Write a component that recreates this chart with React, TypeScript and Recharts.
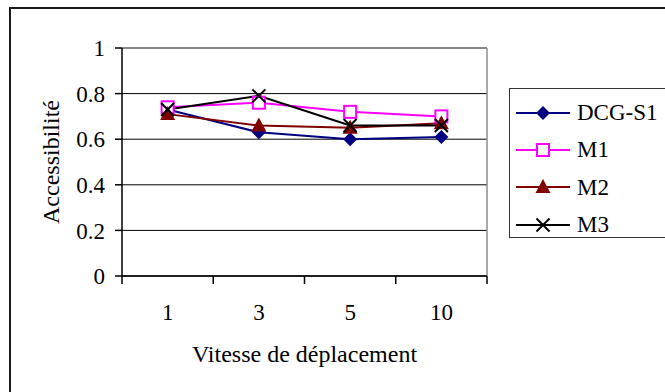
import React from "react";
import { CartesianGrid, Label, Legend, Line, LineChart, ReferenceLine, XAxis, YAxis } from "recharts";

const speeds = ["1", "3", "5", "10"];
const dcgS1 = [0.73, 0.63, 0.6, 0.61];
const m1 = [0.74, 0.76, 0.72, 0.7];
const m2 = [0.71, 0.66, 0.65, 0.67];
const m3 = [0.73, 0.79, 0.66, 0.66];
const yTicks = [0, 0.2, 0.4, 0.6, 0.8, 1];

const FONT = '"Liberation Serif", "Times New Roman", serif';

const series = [
  { key: "dcg", name: "DCG-S1", color: "#000080", shape: "diamond", values: dcgS1 },
  { key: "m1", name: "M1", color: "#ff00ff", shape: "square", values: m1 },
  { key: "m2", name: "M2", color: "#800000", shape: "triangle", values: m2 },
  { key: "m3", name: "M3", color: "#000000", shape: "cross", values: m3 },
];

// categories sit in the middle of each slot, slot edges get the tick marks
const rows = speeds.map((s, i) => {
  const row: Record<string, number | string> = { x: i + 0.5, speed: s };
  series.forEach((sr) => (row[sr.key] = sr.values[i]));
  return row;
});
const xTicks = [0, 0.5, 1, 1.5, 2, 2.5, 3, 3.5, 4];

function Marker({ shape, cx, cy, color }: { shape: string; cx: number; cy: number; color: string }) {
  if (shape === "diamond")
    return <polygon points={`${cx},${cy - 7} ${cx + 7},${cy} ${cx},${cy + 7} ${cx - 7},${cy}`} fill={color} />;
  if (shape === "square")
    return <rect x={cx - 6} y={cy - 6} width={12} height={12} fill="#fff" stroke={color} strokeWidth={2} />;
  if (shape === "triangle")
    return <polygon points={`${cx},${cy - 8} ${cx + 7.5},${cy + 6} ${cx - 7.5},${cy + 6}`} fill={color} />;
  return (
    <g stroke={color} strokeWidth={2}>
      <line x1={cx - 6.5} y1={cy - 6.5} x2={cx + 6.5} y2={cy + 6.5} />
      <line x1={cx - 6.5} y1={cy + 6.5} x2={cx + 6.5} y2={cy - 6.5} />
    </g>
  );
}

function XTick({ x, y, payload }: any) {
  const v = payload.value;
  if (Number.isInteger(v)) return <line x1={x} x2={x} y1={y} y2={y + 8} stroke="#000" strokeWidth={1.5} />;
  return (
    <text x={x} y={y + 44} textAnchor="middle" fontSize={23} fontFamily={FONT} fill="#000">
      {speeds[Math.floor(v)]}
    </text>
  );
}

// the legend box runs off the right edge of the picture, so no right border
function renderLegend() {
  return (
    <div
      style={{
        width: 200,
        height: 150,
        borderTop: "1.5px solid #333",
        borderLeft: "1.5px solid #333",
        borderBottom: "1.5px solid #333",
        boxSizing: "border-box",
        background: "#fff",
        paddingTop: 5,
      }}
    >
      {series.map((s) => (
        <div key={s.key} style={{ display: "flex", alignItems: "center", height: 37.3, paddingLeft: 6 }}>
          <svg width={54} height={24} style={{ display: "block" }}>
            <line x1={0} x2={54} y1={12} y2={12} stroke={s.color} strokeWidth={2} />
            <Marker shape={s.shape} cx={27} cy={12} color={s.color} />
          </svg>
          <span style={{ marginLeft: 7, fontSize: 23, fontFamily: FONT, color: "#000", lineHeight: 1 }}>{s.name}</span>
        </div>
      ))}
    </div>
  );
}

export default function App() {
  return (
    <div style={{ position: "absolute", left: 0, top: 0, width: 665, height: 392, overflow: "hidden", background: "#fff" }}>
      <div style={{ position: "absolute", left: 9, top: 7, width: 700, height: 420, border: "2px solid #1a1a1a" }} />
      <div style={{ position: "absolute", left: 0, top: 0 }}>
        <LineChart width={665} height={392} data={rows} margin={{ top: 48, right: 178, bottom: 36, left: 0 }}>
          <CartesianGrid vertical={false} stroke="#000" strokeWidth={1} />
          <ReferenceLine y={1} stroke="#8c8c8c" strokeWidth={1.5} />
          <ReferenceLine x={4} stroke="#8c8c8c" strokeWidth={1.5} />
          <XAxis
            dataKey="x"
            type="number"
            domain={[0, 4]}
            ticks={xTicks}
            interval={0}
            height={80}
            tickLine={false}
            tickSize={0}
            tickMargin={0}
            axisLine={{ stroke: "#000", strokeWidth: 1.5 }}
            tick={<XTick />}
          >
            <Label
              content={({ viewBox }: any) => (
                <text
                  x={viewBox.x + viewBox.width / 2}
                  y={viewBox.y + 86}
                  textAnchor="middle"
                  fontSize={24}
                  fontFamily={FONT}
                  fill="#000"
                >
                  Vitesse de déplacement
                </text>
              )}
            />
          </XAxis>
          <YAxis
            type="number"
            domain={[0, 1]}
            ticks={yTicks}
            width={122}
            tickSize={7}
            tickMargin={10}
            tickLine={{ stroke: "#000", strokeWidth: 1.5 }}
            axisLine={{ stroke: "#000", strokeWidth: 1.5 }}
            tick={{ fontSize: 23, fontFamily: FONT, fill: "#000" }}
          >
            <Label
              content={({ viewBox }: any) => {
                const cx = viewBox.x + 51;
                const cy = viewBox.y + viewBox.height / 2;
                return (
                  <text
                    x={cx}
                    y={cy}
                    transform={`rotate(-90 ${cx} ${cy})`}
                    textAnchor="middle"
                    dominantBaseline="central"
                    fontSize={24}
                    fontFamily={FONT}
                    fill="#000"
                  >
                    Accessibilité
                  </text>
                );
              }}
            />
          </YAxis>
          {series.map((s) => (
            <Line
              key={s.key}
              dataKey={s.key}
              name={s.name}
              stroke={s.color}
              strokeWidth={2}
              isAnimationActive={false}
              dot={(p: any) => <Marker key={`${s.key}-${p.index}`} shape={s.shape} cx={p.cx} cy={p.cy} color={s.color} />}
              activeDot={false}
            />
          ))}
          <Legend
            layout="vertical"
            align="center"
            verticalAlign="middle"
            content={renderLegend}
            wrapperStyle={{ position: "absolute", left: 509, top: 88, width: 200, height: 150 }}
          />
        </LineChart>
      </div>
    </div>
  );
}
